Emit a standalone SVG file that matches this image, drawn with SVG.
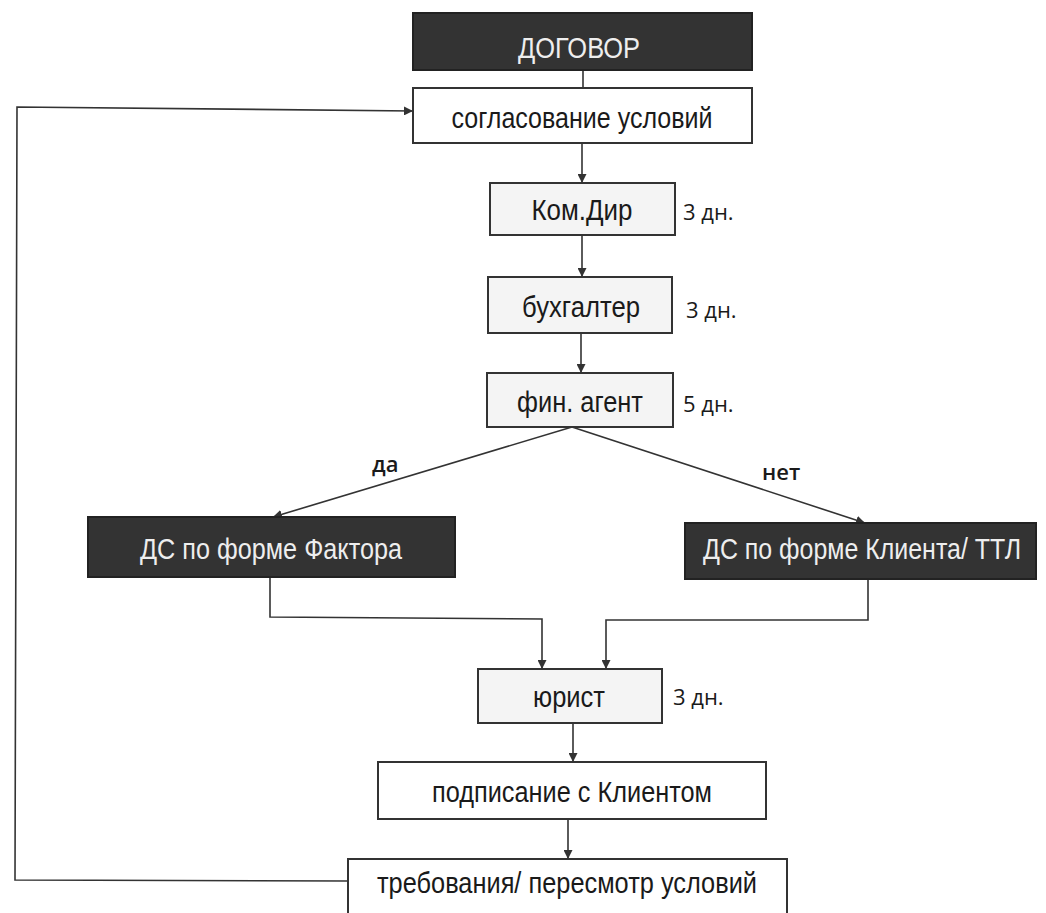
<svg xmlns="http://www.w3.org/2000/svg" width="1046" height="913" viewBox="0 0 1046 913">
<style>
.dark{fill:#333;stroke:#222;stroke-width:2}
.light{fill:#f4f4f4;stroke:#333;stroke-width:2}
.white{fill:#fff;stroke:#333;stroke-width:2}
.t{font-family:"Liberation Sans",Arial,sans-serif;font-size:29px;fill:#1a1a1a;text-anchor:middle}
.tw{font-family:"Liberation Sans",Arial,sans-serif;font-size:29px;fill:#eee;text-anchor:middle}
.lbl{font-family:"Open Sans","Noto Sans",sans-serif;font-size:22px;fill:#1a1a1a}
.yn{font-family:"Open Sans","Noto Sans",sans-serif;font-size:22px;font-weight:600;fill:#1a1a1a}
.c{fill:none;stroke:#333;stroke-width:1.6}
</style>
<defs>
<marker id="ah" viewBox="0 0 10 10" refX="10" refY="5" markerWidth="9" markerHeight="9" markerUnits="userSpaceOnUse" orient="auto">
<path d="M0,0 L10,5 L0,10 z" fill="#333"/>
</marker>
</defs>
<rect width="1046" height="913" fill="#fff"/>
<g id="connectors">
<line class="c" x1="583" y1="70" x2="583" y2="88"/>
<line class="c" x1="582" y1="143" x2="582" y2="183" marker-end="url(#ah)"/>
<line class="c" x1="582" y1="235" x2="582" y2="277" marker-end="url(#ah)"/>
<line class="c" x1="581" y1="333" x2="581" y2="373" marker-end="url(#ah)"/>
<line class="c" x1="572" y1="427" x2="273" y2="517" marker-end="url(#ah)"/>
<line class="c" x1="572" y1="427" x2="865" y2="523" marker-end="url(#ah)"/>
<polyline class="c" points="270,577 270,617 542,619 542,669" marker-end="url(#ah)"/>
<polyline class="c" points="868,579 868,620 606,620 606,669" marker-end="url(#ah)"/>
<line class="c" x1="573" y1="723" x2="573" y2="762" marker-end="url(#ah)"/>
<line class="c" x1="568" y1="819" x2="568" y2="859" marker-end="url(#ah)"/>
<polyline class="c" points="348,881 15,880 17,107 413,111" marker-end="url(#ah)"/>
</g>
<g id="dogovor">
<rect class="dark" x="413" y="13" width="339" height="57"/>
<text class="tw" x="579" y="58" font-size="34" textLength="122" lengthAdjust="spacingAndGlyphs">ДОГОВОР</text>
</g>
<g id="soglasovanie">
<rect class="white" x="413" y="88" width="339" height="55"/>
<text class="t" x="582" y="128" textLength="261" lengthAdjust="spacingAndGlyphs">согласование условий</text>
</g>
<g id="komdir">
<rect class="light" x="490" y="183" width="185" height="52"/>
<text class="t" x="582" y="220" textLength="101" lengthAdjust="spacingAndGlyphs">Ком.Дир</text>
<text class="lbl" x="683" y="220">3 дн.</text>
</g>
<g id="buhgalter">
<rect class="light" x="488" y="277" width="184" height="56"/>
<text class="t" x="581" y="317" textLength="118" lengthAdjust="spacingAndGlyphs">бухгалтер</text>
<text class="lbl" x="686" y="318">3 дн.</text>
</g>
<g id="finagent">
<rect class="light" x="487" y="373" width="186" height="54"/>
<text class="t" x="580" y="412" textLength="126" lengthAdjust="spacingAndGlyphs">фин. агент</text>
<text class="lbl" x="683" y="412">5 дн.</text>
</g>
<g id="labels">
<text class="yn" x="372" y="472">да</text>
<text class="yn" x="762" y="480">нет</text>
</g>
<g id="faktor">
<rect class="dark" x="88" y="517" width="367" height="60"/>
<text class="tw" x="271" y="559" textLength="262" lengthAdjust="spacingAndGlyphs">ДС по форме Фактора</text>
</g>
<g id="klient">
<rect class="dark" x="685" y="523" width="351" height="56"/>
<text class="tw" x="862" y="559" font-size="26" textLength="318" lengthAdjust="spacingAndGlyphs">ДС по форме Клиента/ ТТЛ</text>
</g>
<g id="yurist">
<rect class="light" x="478" y="669" width="184" height="54"/>
<text class="t" x="569" y="707" textLength="72" lengthAdjust="spacingAndGlyphs">юрист</text>
<text class="lbl" x="673" y="705">3 дн.</text>
</g>
<g id="podpisanie">
<rect class="white" x="378" y="762" width="388" height="57"/>
<text class="t" x="572" y="802" textLength="280" lengthAdjust="spacingAndGlyphs">подписание с Клиентом</text>
</g>
<g id="trebovaniya">
<rect class="white" x="348" y="859" width="439" height="60"/>
<text class="t" x="567" y="893" textLength="380" lengthAdjust="spacingAndGlyphs">требования/ пересмотр условий</text>
</g>
</svg>
